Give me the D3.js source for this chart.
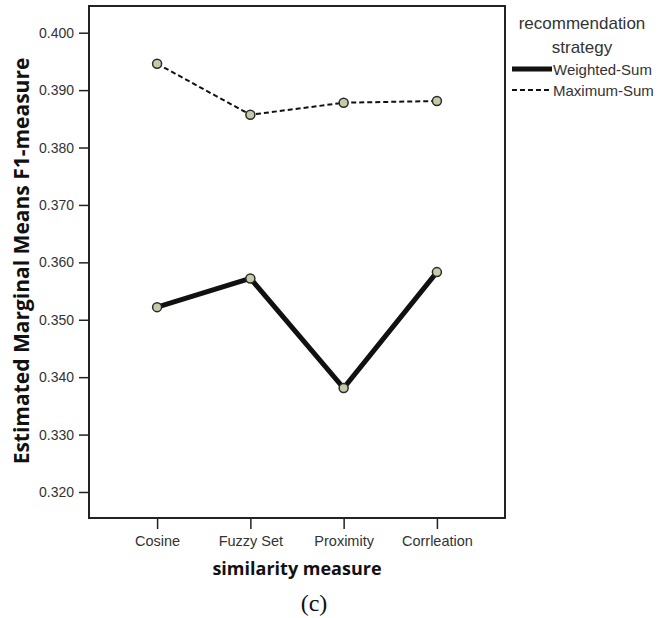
<!DOCTYPE html>
<html>
<head>
<meta charset="utf-8">
<script src="https://cdn.jsdelivr.net/npm/d3@7"></script>
<style>
  body { margin: 0; background: #fff; }
  svg { display: block; }
</style>
</head>
<body>
<div id="chart"></div>
<script>
// data
const categories = ['Cosine', 'Fuzzy Set', 'Proximity', 'Corrleation'];
const weightedSum = [0.3522, 0.3572, 0.3381, 0.3583];
const maximumSum = [0.3946, 0.3857, 0.3878, 0.3881];
const yTicks = [0.320, 0.330, 0.340, 0.350, 0.360, 0.370, 0.380, 0.390, 0.400];

const series = [
    { name: 'Weighted-Sum', values: weightedSum, width: 5, dash: null },
    { name: 'Maximum-Sum', values: maximumSum, width: 2, dash: '5,3' }
];

const W = 670, H = 618;
const plot = { left: 89, top: 6, right: 505, bottom: 518 };
const sans = '"Liberation Sans", Arial, sans-serif';

const svg = d3.select('#chart').append('svg')
    .attr('width', W)
    .attr('height', H);

const x = d3.scalePoint()
    .domain(categories)
    .range([plot.left, plot.right])
    .padding(0.73);

const y = d3.scaleLinear()
    .domain([0.31547, 0.40465])
    .range([plot.bottom, plot.top]);

// Y axis
const yAxis = svg.append('g')
    .attr('transform', `translate(${plot.left},0)`)
    .call(d3.axisLeft(y).tickValues(yTicks).tickFormat(d3.format('.3f')).tickSize(10).tickPadding(5));
yAxis.select('.domain').remove();
yAxis.selectAll('line').attr('stroke', '#222').attr('stroke-width', 1.5);
yAxis.selectAll('text')
    .attr('fill', '#333')
    .style('font-family', sans)
    .style('font-size', '14px');

// X axis
const xAxis = svg.append('g')
    .attr('transform', `translate(0,${plot.bottom})`)
    .call(d3.axisBottom(x).tickSize(11).tickPadding(7));
xAxis.select('.domain').remove();
xAxis.selectAll('line').attr('stroke', '#222').attr('stroke-width', 1.5);
xAxis.selectAll('text')
    .attr('fill', '#333')
    .style('font-family', sans)
    .style('font-size', '14.5px');

// frame
svg.append('rect')
    .attr('x', plot.left)
    .attr('y', plot.top)
    .attr('width', plot.right - plot.left)
    .attr('height', plot.bottom - plot.top)
    .attr('fill', 'none')
    .attr('stroke', '#222')
    .attr('stroke-width', 2);

// lines
const line = d3.line()
    .x((d, i) => x(categories[i]))
    .y(d => y(d));

series.forEach(s => {
    svg.append('path')
        .datum(s.values)
        .attr('d', line)
        .attr('fill', 'none')
        .attr('stroke', '#111')
        .attr('stroke-width', s.width)
        .attr('stroke-dasharray', s.dash);
});

series.forEach(s => {
    svg.selectAll(null)
        .data(s.values)
        .enter()
        .append('circle')
        .attr('cx', (d, i) => x(categories[i]))
        .attr('cy', d => y(d))
        .attr('r', 4.5)
        .attr('fill', '#c9c9a9')
        .attr('stroke', '#2a2a2a')
        .attr('stroke-width', 1.5);
});

// axis titles
svg.append('text')
    .attr('transform', `translate(29,261) rotate(-90)`)
    .attr('text-anchor', 'middle')
    .style('font-family', '"Open Sans", sans-serif')
    .style('font-weight', 'bold')
    .style('font-size', '21px')
    .attr('fill', '#111')
    .text('Estimated Marginal Means F1-measure');

svg.append('text')
    .attr('x', (plot.left + plot.right) / 2)
    .attr('y', 575)
    .attr('text-anchor', 'middle')
    .style('font-family', '"Open Sans", sans-serif')
    .style('font-weight', 'bold')
    .style('font-size', '18px')
    .attr('fill', '#111')
    .text('similarity measure');

svg.append('text')
    .attr('x', 314)
    .attr('y', 611)
    .attr('text-anchor', 'middle')
    .style('font-family', '"Liberation Serif", "Times New Roman", serif')
    .style('font-size', '24px')
    .attr('fill', '#111')
    .text('(c)');

// legend
const legend = svg.append('g');
legend.append('text')
    .attr('x', 582).attr('y', 29)
    .attr('text-anchor', 'middle')
    .style('font-family', sans)
    .style('font-size', '17px')
    .attr('fill', '#333')
    .text('recommendation');
legend.append('text')
    .attr('x', 582).attr('y', 53)
    .attr('text-anchor', 'middle')
    .style('font-family', sans)
    .style('font-size', '17px')
    .attr('fill', '#333')
    .text('strategy');

series.forEach((s, i) => {
    const row = legend.append('g')
        .attr('transform', `translate(512,${69 + i * 21})`);
    row.append('line')
        .attr('x1', 0).attr('x2', 40)
        .attr('stroke', '#111')
        .attr('stroke-width', s.width)
        .attr('stroke-dasharray', s.dash);
    row.append('text')
        .attr('x', 41).attr('y', 5.5)
        .style('font-family', sans)
        .style('font-size', '15px')
        .attr('fill', '#333')
        .text(s.name);
});
</script>
</body>
</html>
